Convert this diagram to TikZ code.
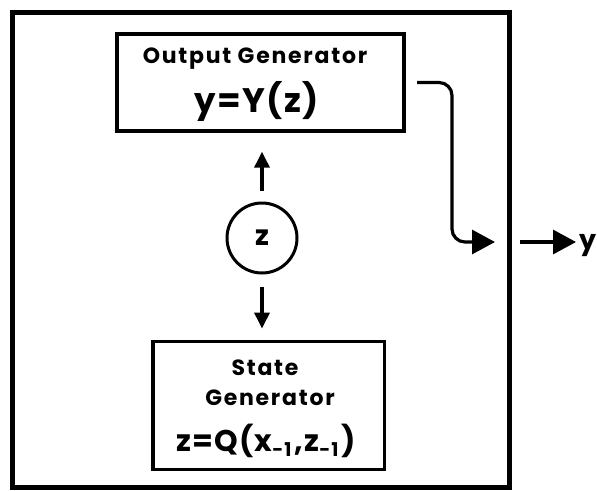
\documentclass[tikz,border=0pt]{standalone}
\usepackage{fontspec}
\setmainfont{Poppins}
\newfontfamily\lblfont{Poppins}[LetterSpace=8]
\newfontfamily\eqfont{Poppins}[LetterSpace=4]
\newcommand{\mysubone}{\raisebox{-5pt}{\fontsize{19}{19}\selectfont -\hspace{1pt}1}\hspace{3pt}}
\usetikzlibrary{arrows.meta}
\begin{document}
\begin{tikzpicture}[x=1pt,y=-1pt,
  frame/.style={draw, line width=5pt, minimum width=496.5pt, minimum height=475pt, inner sep=0pt},
  genbox/.style={draw, line width=3.8pt, inner sep=0pt},
  lbl/.style={anchor=base, inner sep=0pt, font=\lblfont\bfseries\fontsize{22}{22}\selectfont},
  eq/.style={anchor=base, inner sep=0pt, font=\eqfont\bfseries},
  conn/.style={line width=3.2pt, -{Triangle[length=16pt,width=15pt]}},
  bigconn/.style={line width=3.2pt, -{Triangle[length=23pt,width=24pt]}}
]
\useasboundingbox (0,0) rectangle (597,490);
\fill[white] (0,0) rectangle (597,490);
% outer frame
\node[frame] (frame) at (260.75,250) {};
% output generator
\node[genbox, minimum width=287.5pt, minimum height=96.5pt] (outbox) at (260.5,82.5) {};
\node[lbl] (outtitle) at (255,63) {Output Generator};
\node[eq, font=\eqfont\bfseries\fontsize{34}{34}\selectfont] (outeq) at (256.5,112) {y=Y(z)};
% state generator
\node[genbox, minimum width=231.5pt, minimum height=128pt] (statebox) at (268.75,405.5) {};
\node[lbl] (sttitle1) at (265,375) {State};
\node[lbl] (sttitle2) at (270,405) {Generator};
\node[eq, font=\eqfont\bfseries\fontsize{30}{30}\selectfont] (steq) at (266,451)
  {z=Q(x\mysubone,z\mysubone)};
% state circle
\node[draw, circle, line width=3pt, minimum size=70pt, inner sep=0pt,
  font=\bfseries\fontsize{28}{28}\selectfont] (z) at (262,238) {z};
% connectors
\draw[conn, shorten <=11pt, shorten >=19pt] (z) -- (z |- outbox.south);
\draw[conn, shorten <=12pt, shorten >=11pt] (z) -- (z |- statebox.north);
\coordinate (yin) at (495,242);
\draw[bigconn, rounded corners=13pt, shorten <=11pt] (outbox.east) -- (452,82.5) -- (452,242) -- (yin);
\node[anchor=base west, inner sep=0pt, font=\bfseries\fontsize{27}{27}\selectfont] (ylab) at (579,249) {y};
\coordinate (yout) at (520,242);
\draw[bigconn, shorten >=3pt] (yout) -- (ylab.west |- yout);
\end{tikzpicture}
\end{document}
